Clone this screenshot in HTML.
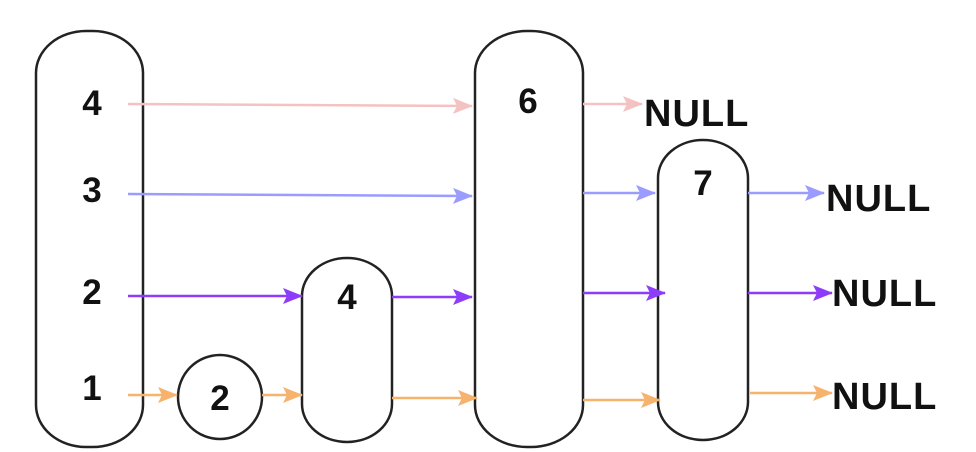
<!DOCTYPE html>
<html><head><meta charset="utf-8"><style>
html,body{margin:0;padding:0;background:#fff;}
svg{display:block;}
text{font-family:"Liberation Sans","DejaVu Sans",sans-serif;font-weight:bold;fill:#111;}
</style></head><body>
<svg width="976" height="452" viewBox="0 0 976 452">
<defs>
<marker id="mp" markerWidth="20" markerHeight="16" refX="19" refY="8" orient="auto" markerUnits="userSpaceOnUse" viewBox="0 0 20 16"><path d="M0,0 L20,8 L0,16 L4,8 z" fill="#f4c2c2"/></marker>
<marker id="mb" markerWidth="20" markerHeight="16" refX="19" refY="8" orient="auto" markerUnits="userSpaceOnUse" viewBox="0 0 20 16"><path d="M0,0 L20,8 L0,16 L4,8 z" fill="#9a9cff"/></marker>
<marker id="mv" markerWidth="20" markerHeight="16" refX="19" refY="8" orient="auto" markerUnits="userSpaceOnUse" viewBox="0 0 20 16"><path d="M0,0 L20,8 L0,16 L4,8 z" fill="#8d3dfa"/></marker>
<marker id="mo" markerWidth="20" markerHeight="16" refX="19" refY="8" orient="auto" markerUnits="userSpaceOnUse" viewBox="0 0 20 16"><path d="M0,0 L20,8 L0,16 L4,8 z" fill="#f5b36d"/></marker>
</defs>
<g fill="#fff" stroke="#222" stroke-width="2.5">
<rect x="36" y="31" width="107" height="416" rx="50" ry="42"/>
<circle cx="220" cy="397" r="42"/>
<rect x="302" y="258" width="90" height="184" rx="45" ry="38"/>
<rect x="475" y="31" width="108" height="416" rx="52" ry="42"/>
<rect x="658" y="140" width="90" height="300" rx="45" ry="38"/>
</g>
<g font-size="35" text-anchor="middle">
<text x="92" y="115">4</text><text x="92" y="202">3</text><text x="92" y="304">2</text><text x="92" y="400">1</text>
<text x="220" y="410">2</text><text x="347" y="309">4</text><text x="528" y="113">6</text><text x="703" y="195">7</text>
</g>
<g font-size="38" text-anchor="start" letter-spacing="1">
<text x="644" y="126">NULL</text>
<text x="826" y="211">NULL</text>
<text x="832" y="306">NULL</text>
<text x="832" y="409">NULL</text>
</g>
<g stroke-width="2.5" fill="none">
<line x1="128" y1="104" x2="472" y2="106" stroke="#f4c2c2" marker-end="url(#mp)"/>
<line x1="583" y1="104" x2="642" y2="104" stroke="#f4c2c2" marker-end="url(#mp)"/>
<line x1="128" y1="194" x2="472" y2="196" stroke="#9a9cff" marker-end="url(#mb)"/>
<line x1="583" y1="193" x2="655" y2="193" stroke="#9a9cff" marker-end="url(#mb)"/>
<line x1="748" y1="193" x2="824" y2="193" stroke="#9a9cff" marker-end="url(#mb)"/>
<line x1="128" y1="296" x2="302" y2="296" stroke="#8d3dfa" marker-end="url(#mv)"/>
<line x1="392" y1="297" x2="472" y2="297" stroke="#8d3dfa" marker-end="url(#mv)"/>
<line x1="583" y1="293" x2="665" y2="293" stroke="#8d3dfa" marker-end="url(#mv)"/>
<line x1="748" y1="293" x2="832" y2="293" stroke="#8d3dfa" marker-end="url(#mv)"/>
<line x1="128" y1="395" x2="177" y2="395" stroke="#f5b36d" marker-end="url(#mo)"/>
<line x1="262" y1="395" x2="302" y2="395" stroke="#f5b36d" marker-end="url(#mo)"/>
<line x1="392" y1="398" x2="477" y2="398" stroke="#f5b36d" marker-end="url(#mo)"/>
<line x1="583" y1="400" x2="660" y2="400" stroke="#f5b36d" marker-end="url(#mo)"/>
<line x1="750" y1="393" x2="832" y2="393" stroke="#f5b36d" marker-end="url(#mo)"/>
</g>
</svg>
</body></html>
